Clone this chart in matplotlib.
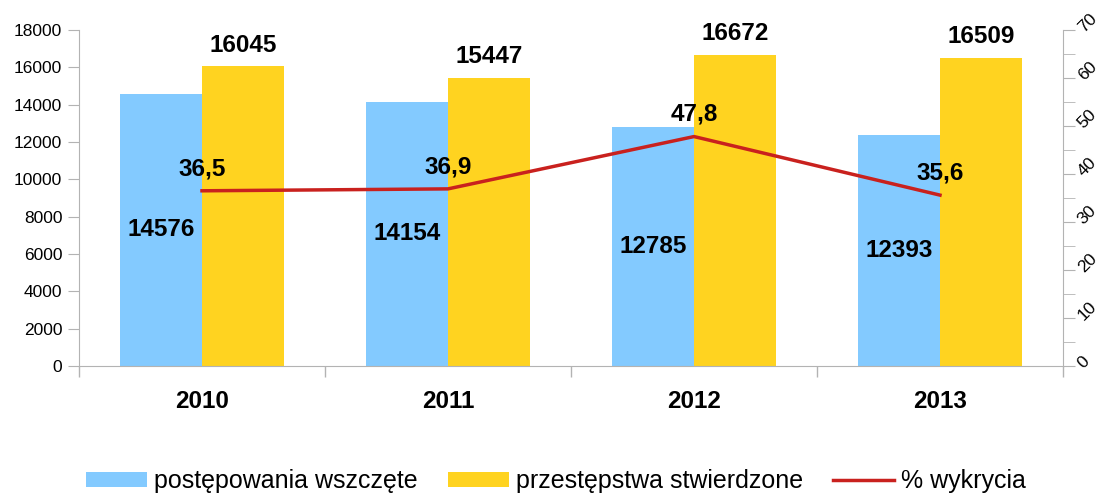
import matplotlib
matplotlib.use("Agg")
import matplotlib.pyplot as plt
import numpy as np

years = ["2010", "2011", "2012", "2013"]
wszczete = [14576, 14154, 12785, 12393]
stwierdzone = [16045, 15447, 16672, 16509]
wykrycie = [36.5, 36.9, 47.8, 35.6]
wykrycie_labels = ["36,5", "36,9", "47,8", "35,6"]

plt.rcParams['font.family'] = ['Liberation Sans', 'DejaVu Sans']

fig = plt.figure(figsize=(11.09, 4.96), dpi=100)
W, H = 1109, 496
ax = fig.add_axes([79 / W, 1 - 366 / H, (1063 - 79) / W, (366 - 30) / H])
ax2 = ax.twinx()

grey = "#b3b3b3"
blue = "#83CAFF"
yellow = "#FFD320"
red = "#C9211E"
lblsize = 17.5

x = np.arange(len(years))
bw = 1 / 3
b1 = ax.bar(x - bw / 2, wszczete, bw, color=blue, label="postępowania wszczęte", zorder=2)
b2 = ax.bar(x + bw / 2, stwierdzone, bw, color=yellow, label="przestępstwa stwierdzone", zorder=2)

ax.set_xlim(-0.5, len(years) - 0.5)
ax.set_ylim(0, 18000)
ax.set_yticks(np.arange(0, 18001, 2000))
ax.set_xticks(x)
ax.set_xticklabels(years, fontsize=lblsize, fontweight="bold")
ax.tick_params(axis="x", length=0, pad=17)
ax.set_xticks(np.arange(-0.5, len(years), 1), minor=True)
ax.tick_params(axis="x", which="minor", length=8, color=grey, width=1)
ax.tick_params(axis="y", length=8, color=grey, labelsize=12.5, pad=4)

for a in (ax, ax2):
    a.spines["top"].set_visible(False)
    for s in ["left", "bottom", "right"]:
        a.spines[s].set_color(grey)
ax.spines["right"].set_visible(False)
ax2.spines["left"].set_visible(False)
ax2.spines["bottom"].set_visible(False)

for xi, v in zip(x, wszczete):
    ax.text(xi - bw / 2, v / 2, str(v), ha="center", va="center",
            fontsize=lblsize, fontweight="bold", zorder=5)
for xi, v in zip(x, stwierdzone):
    ax.text(xi + bw / 2, v + 1150, str(v), ha="center", va="center",
            fontsize=lblsize, fontweight="bold", zorder=5)

line, = ax2.plot(x, wykrycie, color=red, lw=2.5, label="% wykrycia", zorder=3)
ax2.set_ylim(0, 70)
ax2.set_yticks(np.arange(0, 71, 10))
ax2.set_yticks(np.arange(5, 70, 10), minor=True)
ax2.tick_params(axis="y", which="both", length=8.6, color=grey, direction="out", pad=4)
ax2.tick_params(axis="y", which="major", labelsize=12.5)
for lab in ax2.get_yticklabels():
    lab.set_rotation(45)
    lab.set_rotation_mode("anchor")
    lab.set_ha("left")
    lab.set_va("center")
for xi, v, t in zip(x, wykrycie, wykrycie_labels):
    ax2.text(xi, v + 4.6, t, ha="center", va="center", fontsize=lblsize, fontweight="bold", zorder=5)

ax.set_zorder(1)
ax2.set_zorder(2)
ax2.patch.set_visible(False)

handles = [b1, b2, line]
fig.legend(handles=handles, labels=[h.get_label() for h in handles],
           loc="center", bbox_to_anchor=(556 / W, 1 - 481 / H), ncol=3, frameon=False,
           fontsize=18, handlelength=2.45, handleheight=0.55, columnspacing=1.2,
           handletextpad=0.28, borderpad=0.2)

fig.savefig("out.png", dpi=100)
